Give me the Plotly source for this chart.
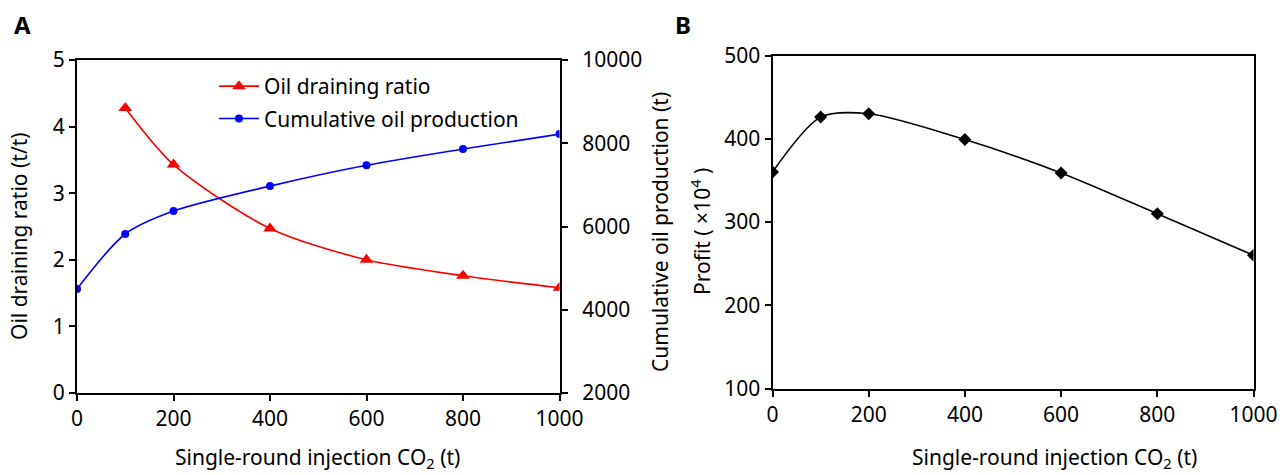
import plotly.graph_objects as go

# Data
x_inj = [0, 100, 200, 400, 600, 800, 1000]
ratio_x = [100, 200, 400, 600, 800, 1000]
ratio_y = [4.28, 3.43, 2.47, 2.0, 1.76, 1.58]
cum_y = [4500, 5820, 6370, 6970, 7470, 7860, 8220]
profit_y = [360, 426, 430, 399, 359, 310, 260]

W, H = 1287, 475
FONT = "Noto Sans"
FS = 21

def px(x):
    return x / W

def py(y):
    return 1 - y / H

fig = go.Figure()

fig.add_trace(go.Scatter(
    x=ratio_x, y=ratio_y, name="Oil draining ratio", legendgroup="a",
    mode="lines+markers", line=dict(color="#ff0000", width=1.6, shape="spline", smoothing=0.8),
    marker=dict(symbol="triangle-up", size=12, color="#ff0000"),
    xaxis="x", yaxis="y"))
fig.add_trace(go.Scatter(
    x=x_inj, y=cum_y, name="Cumulative oil production", legendgroup="b",
    mode="lines+markers", line=dict(color="#0000ff", width=1.6, shape="spline", smoothing=0.8),
    marker=dict(symbol="circle", size=8, color="#0000ff"),
    xaxis="x", yaxis="y2"))
fig.add_trace(go.Scatter(
    x=x_inj, y=profit_y, name="Profit", showlegend=False,
    mode="lines+markers", line=dict(color="#000000", width=1.6, shape="spline", smoothing=0.8),
    marker=dict(symbol="diamond", size=10, color="#000000"),
    xaxis="x2", yaxis="y3"))

axis_common = dict(
    showline=True, linecolor="black", linewidth=2, ticks="outside", ticklen=6,
    tickwidth=1.5, tickcolor="black", showgrid=False, zeroline=False,
    tickfont=dict(family=FONT, size=FS, color="black"), tickformat="d",
    automargin=False,
)

xtitle = "Single-round injection CO<sub>2</sub> (t)"
tfont = dict(family=FONT, size=FS, color="black")

def title_ann(text, x, y, angle=0):
    return dict(text=text, x=px(x), y=py(y), xref="paper", yref="paper",
                xanchor="center", yanchor="middle", textangle=angle,
                showarrow=False, font=tfont)

fig.update_layout(
    width=W, height=H,
    margin=dict(l=0, r=0, t=0, b=0, autoexpand=False),
    plot_bgcolor="white", paper_bgcolor="white",
    font=dict(family=FONT, size=FS, color="black"),
    xaxis=dict(domain=[px(77), px(559.5)], range=[0, 1000], dtick=200,
               anchor="y", mirror=True, **axis_common),
    yaxis=dict(domain=[py(393), py(60)], range=[0, 5], dtick=1,
               anchor="x", **axis_common),
    yaxis2=dict(range=[2000, 10000], dtick=2000, overlaying="y", side="right",
                anchor="x", tickprefix="\u2002", **axis_common),
    xaxis2=dict(domain=[px(772.5), px(1253.5)], range=[0, 1000], dtick=200,
                anchor="y3", mirror=True, **axis_common),
    yaxis3=dict(domain=[py(388.5), py(55.5)], range=[100, 500], dtick=100,
                anchor="x2", mirror=True, **axis_common),
    legend=dict(x=px(214), y=py(66), xanchor="left", yanchor="top",
                bgcolor="rgba(0,0,0,0)", font=tfont,
                tracegroupgap=2, itemwidth=40),
    annotations=[
        dict(text="<b>A</b>", x=px(22), y=py(25), xref="paper", yref="paper",
             xanchor="center", yanchor="middle",
             showarrow=False, font=dict(family=FONT, size=24, color="black")),
        dict(text="<b>B</b>", x=px(683), y=py(25), xref="paper", yref="paper",
             xanchor="center", yanchor="middle",
             showarrow=False, font=dict(family=FONT, size=24, color="black")),
        title_ann(xtitle, 317, 458),
        title_ann(xtitle, 1054, 458),
        title_ann("Oil draining ratio (t/t)", 19, 236, -90),
        title_ann("Cumulative oil production (t)", 660, 232, -90),
        title_ann("Profit ( ×10<sup>4</sup> )", 701, 232, -90),
    ],
)

fig.write_html("out.html")
